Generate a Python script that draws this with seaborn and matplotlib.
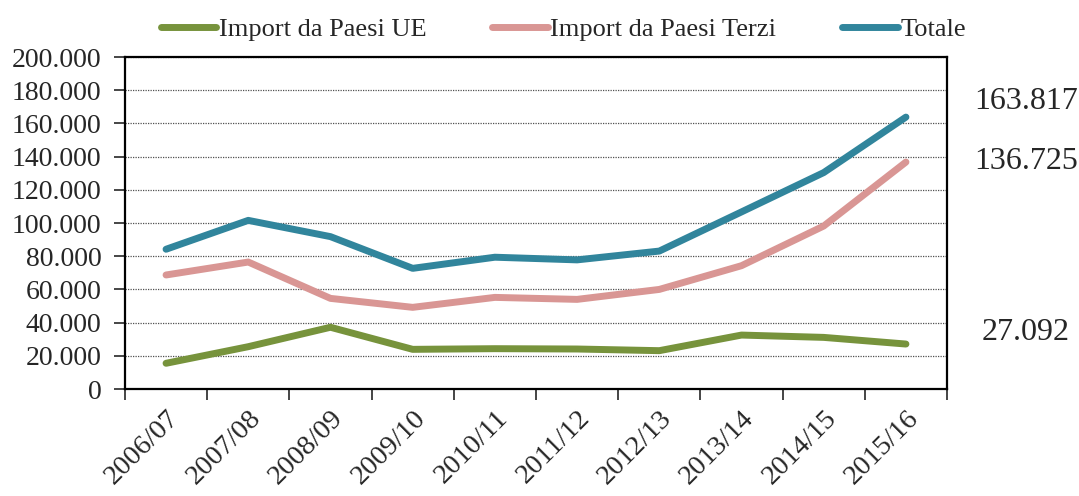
import numpy as np
import pandas as pd
import seaborn as sb
import matplotlib.pyplot as plt
from matplotlib.ticker import FuncFormatter, FixedLocator
from matplotlib.transforms import ScaledTranslation

# Data
anni = ['2006/07', '2007/08', '2008/09', '2009/10', '2010/11',
        '2011/12', '2012/13', '2013/14', '2014/15', '2015/16']
import_ue = [15500, 25500, 37200, 23900, 24300, 24100, 23100, 32500, 31100, 27092]
import_terzi = [68700, 76500, 54600, 49200, 55200, 54000, 60000, 74300, 98200, 136725]
totale = [84200, 101600, 91800, 72700, 79400, 77800, 83100, 106700, 130400, 163817]

serie_nomi = ['Import da Paesi UE', 'Import da Paesi Terzi', 'Totale']
colori = ['#77933C', '#D99694', '#31859C']

df = pd.DataFrame({
    'anno': anni * 3,
    'valore': import_ue + import_terzi + totale,
    'serie': np.repeat(serie_nomi, len(anni)),
})

sb.set_style('white')
plt.rcParams['font.family'] = ['Liberation Serif', 'DejaVu Serif']
plt.rcParams['font.size'] = 20

fig, ax = plt.subplots(figsize=(10.79, 4.96), dpi=100)
fig.subplots_adjust(left=0.1158, right=0.8777, top=0.885, bottom=0.2157)

sb.lineplot(data=df, x='anno', y='valore', hue='serie', hue_order=serie_nomi,
            palette=colori, linewidth=5, sort=False, ax=ax,
            solid_capstyle='round', solid_joinstyle='round')

ax.set_xlim(-0.5, len(anni) - 0.5)
ax.set_ylim(0, 200000)
ax.set_yticks(np.arange(0, 200001, 20000))
ax.yaxis.set_major_formatter(FuncFormatter(lambda v, p: f"{int(v):,}".replace(',', '.')))
ax.set_xticks(range(len(anni)))
ax.set_xticklabels(anni, rotation=45, ha='right', rotation_mode='anchor', fontsize=20.5)
shift = ScaledTranslation(5 / 100, 0, fig.dpi_scale_trans)
for lab in ax.get_xticklabels():
    lab.set_transform(lab.get_transform() + shift)
ax.xaxis.set_minor_locator(FixedLocator(np.arange(-0.5, len(anni), 1.0)))
ax.tick_params(axis='x', which='major', length=0, pad=12)
ax.tick_params(axis='x', which='minor', length=8, width=1.2, direction='out', bottom=True)
ax.tick_params(axis='y', which='major', length=8, width=1.2, direction='out', left=True,
               pad=9, labelsize=20)
ax.set_xlabel('')
ax.set_ylabel('')

ax.yaxis.grid(True, linestyle=(0, (1, 1)), color='#505050', linewidth=0.9)
ax.set_axisbelow(True)
for s in ax.spines.values():
    s.set_visible(True)
    s.set_color('black')
    s.set_linewidth(1.6)

# value labels at the right of the plot
for nome, vals, dx, dy in [('Totale', totale, 68, 16),
                           ('Terzi', import_terzi, 68, 1),
                           ('UE', import_ue, 76, 12)]:
    ax.annotate(f"{vals[-1]:,}".replace(',', '.'), xy=(len(anni) - 1, vals[-1]),
                xytext=(dx, dy), textcoords='offset pixels', fontsize=23,
                ha='left', va='center', annotation_clip=False)

ax.get_legend().remove()
handles, labels = ax.get_legend_handles_labels()
for h in handles:
    h.set_solid_capstyle('round')
fig.legend(handles, labels, loc='center', bbox_to_anchor=(0.522, 0.94), ncol=3,
           frameon=False, handlelength=2.1, handletextpad=0.1, columnspacing=2.5,
           fontsize=19)

plt.savefig('out.png', dpi=100)
